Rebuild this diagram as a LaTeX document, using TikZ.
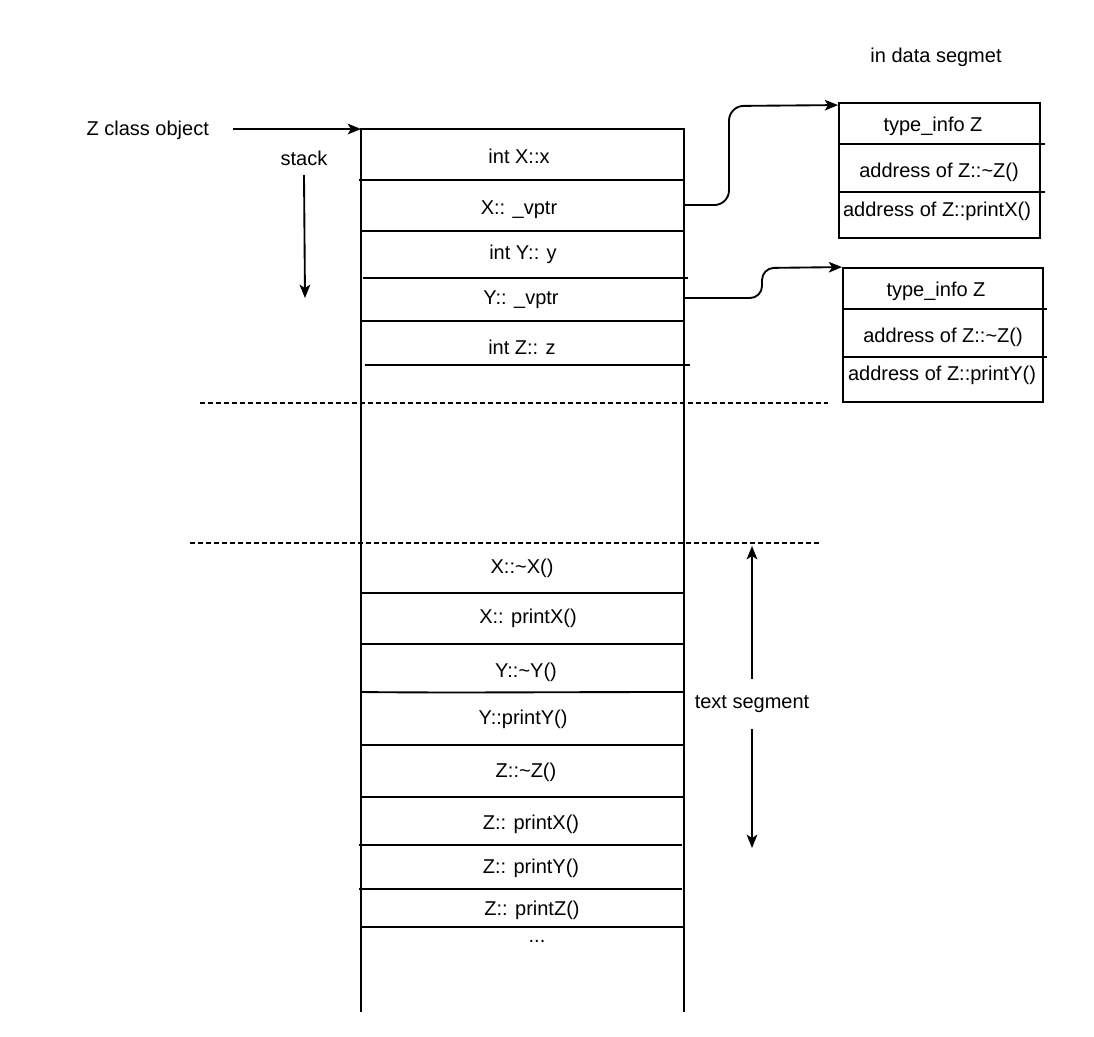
\documentclass[tikz,border=0pt]{standalone}
\usepackage{fontspec}
\setmainfont{Liberation Sans}
\usetikzlibrary{arrows.meta,calc}
\begin{document}
\begin{tikzpicture}[x=0.75pt,y=-0.75pt,
  ln/.style={line width=1.4pt},
  lbl/.style={font=\fontsize{15}{18}\selectfont, inner sep=1pt},
  arr/.style={line width=1.4pt,-{Stealth[length=10pt,width=8pt,inset=2.5pt]}},
  dsh/.style={line width=1pt, dash pattern=on 3.5pt off 2.5pt},
  vbox/.style={draw, line width=1.4pt, inner sep=0pt}]
\useasboundingbox (0,0) rectangle (1094,1036);

% memory column
\coordinate (ctl) at (361,129);
\coordinate (ctr) at (684,129);
\draw[ln] (361,1012) -- (ctl) -- (ctr) -- (684,1012);
% stack rows
\draw[ln] (359,180) -- (684,180);
\draw[ln] (361,231) -- (684,231);
\draw[ln] (363,278) -- (688,278);
\draw[ln] (361,321) -- (684,321);
\draw[ln] (365,365) -- (690,365);
\node[lbl] (s1) at (519,156) {int X::x};
\node[lbl] (s2) at (519,210) {X:: \_vptr};
\node[lbl] (s3) at (523,254) {int Y:: y};
\node[lbl] (s4) at (521,300) {Y:: \_vptr};
\node[lbl] (s5) at (522,347) {int Z:: z};

% dashed separators
\draw[dsh] (200,403) -- (828,403);
\draw[dsh] (190,543) -- (820,543);

% text segment rows
\draw[ln] (361,593) -- (684,593);
\draw[ln] (361,644) -- (684,644);
\draw[ln] (361,692) .. controls (450,693) and (550,692) .. (684,692);
\draw[ln] (361,745) -- (684,745);
\draw[ln] (361,797) -- (684,797);
\draw[ln] (359,845) -- (682,845);
\draw[ln] (359,889) -- (682,889);
\draw[ln] (361,927) -- (684,927);
\node[lbl] (t1) at (522,568) {X::\textasciitilde X()};
\node[lbl] (t2) at (528,618) {X:: printX()};
\node[lbl] (t3) at (526,672) {Y::\textasciitilde Y()};
\node[lbl] (t4) at (523,719) {Y::printY()};
\node[lbl] (t5) at (526,772) {Z::\textasciitilde Z()};
\node[lbl] (t6) at (531,824) {Z:: printX()};
\node[lbl] (t7) at (531,868) {Z:: printY()};
\node[lbl] (t8) at (532,910) {Z:: printZ()};
\node[lbl] (t9) at (537,941) {...};

% left labels
\node[lbl, anchor=west] (zobj) at (85,130) {Z class object};
\draw[arr] (233,129) -- (ctl);
\node[lbl] (stk) at (304,158) {stack};
\coordinate (stkend) at (305,298);
\draw[arr] (stk.south) ++(0,8) -- (stkend);

% data segment
\node[lbl] (dseg) at (936,57) {in data segmet};

\node[vbox, minimum width=150.75pt, minimum height=101.25pt] (vt1) at (939.5,170.5) {};
\draw[ln] (839,144) -- (1045,144);
\draw[ln] (839,192) -- (1045,192);
\node[lbl] (v1a) at (933,126) {type\_info Z};
\node[lbl] (v1b) at (939,172) {address of Z::\textasciitilde Z()};
\node[lbl] (v1c) at (937,211) {address of Z::printX()};

\node[vbox, minimum width=150pt, minimum height=100.5pt] (vt2) at (943,335) {};
\draw[ln] (843,309) -- (1047,309);
\draw[ln] (843,357) -- (1047,357);
\node[lbl] (v2a) at (936,291) {type\_info Z};
\node[lbl] (v2b) at (943,337) {address of Z::\textasciitilde Z()};
\node[lbl] (v2c) at (942,375) {address of Z::printY()};

% vptr connectors
\coordinate (vp1) at (684,205);
\coordinate (vp2) at (684,298);
\draw[arr, rounded corners=11pt] (vp1) -- (729,205) -- (729,106) -- ($(vt1.north west)+(0,3)$);
\draw[arr, rounded corners=9pt] (vp2) -- (762,298) -- (762,268) -- (vt2.north west);

% text segment arrow
\node[lbl, fill=white, inner sep=3pt] (tseg) at (752,704) {text segment};
\coordinate (tstop) at (752,546);
\coordinate (tsbot) at (752,848);
\draw[arr] (tseg.north) ++(0,-12) -- (tstop);
\draw[arr] (tseg.south) ++(0,12) -- (tsbot);
\end{tikzpicture}
\end{document}
